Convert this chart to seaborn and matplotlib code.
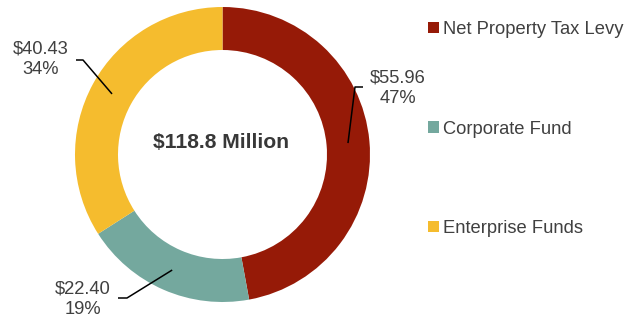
import numpy as np
import matplotlib
matplotlib.use("Agg")
import matplotlib.pyplot as plt
import seaborn as sns

categories = ["Net Property Tax Levy", "Corporate Fund", "Enterprise Funds"]
values = [55.96, 22.40, 40.43]
pct_labels = ["47%", "19%", "34%"]
value_labels = ["$55.96", "$22.40", "$40.43"]
center_label = "$118.8 Million"
colors = ["#961A07", "#74A89E", "#F5BC2E"]

sns.set_style("white")
plt.rcParams["font.family"] = ["Liberation Sans", "DejaVu Sans"]

W, H = 637, 318
fig = plt.figure(figsize=(W / 100, H / 100), dpi=100)
ax = fig.add_axes([0, 0, 1, 1])

cx, cy = 222.5, H - 154.5
R, ring = 147.5, 43

wedges, _ = ax.pie(values, colors=sns.color_palette(colors), startangle=90,
                   counterclock=False, center=(cx, cy), radius=R,
                   wedgeprops=dict(width=ring, linewidth=0), frame=True)
ax.set_xlim(0, W)
ax.set_ylim(0, H)
ax.set_aspect("equal")
ax.axis("off")

tc = "#404040"
ax.text(cx - 1.5, H - 143, center_label, ha="center", va="center",
        fontsize=15.2, fontweight="bold", color="#383838")

# label layout (elbow, end of horizontal, text center) in pixel coords (y from top)
layout = [
    ((355, 87), (363, 87), (398, 88)),
    ((127, 298), (118, 298), (83, 299)),
    ((83, 60), (76, 60), (40.5, 59.5)),
]
r_anchor = R - ring / 2
for w, val, pct, (elb, end, txt) in zip(wedges, value_labels, pct_labels, layout):
    mid = np.deg2rad((w.theta1 + w.theta2) / 2)
    ax_x = cx + r_anchor * np.cos(mid)
    ax_y = cy + r_anchor * np.sin(mid)
    ax.plot([ax_x, elb[0], end[0]], [ax_y, H - elb[1], H - end[1]],
            color="black", lw=1.1, solid_capstyle="butt")
    ax.text(txt[0], H - txt[1], f"{val}\n{pct}", ha="center", va="center",
            fontsize=13.2, color=tc, linespacing=1.3)

leg = ax.legend(wedges, categories, loc="upper left",
                bbox_to_anchor=(428 / W, 1 - 21 / H), frameon=False,
                fontsize=13.2, labelcolor=tc, handlelength=0.6, handleheight=0.6,
                handletextpad=0.2, labelspacing=4.5, borderaxespad=0,
                borderpad=0)

fig.savefig("out.png", dpi=100)
